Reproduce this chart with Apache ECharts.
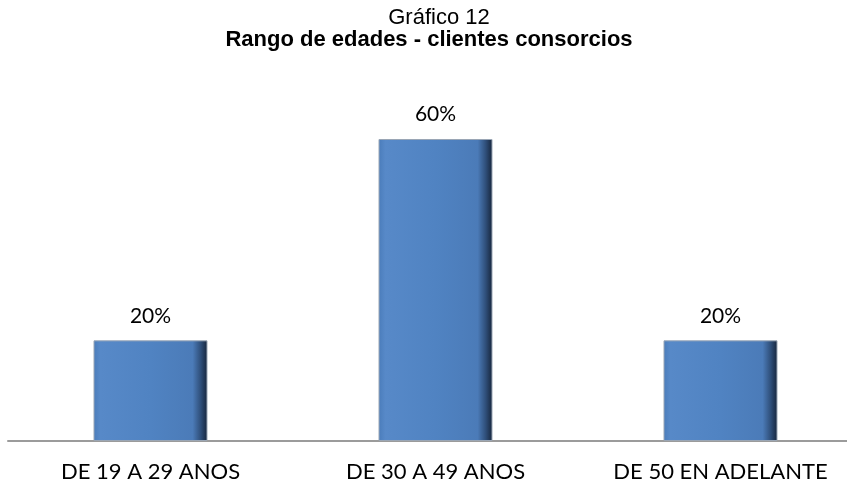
<!DOCTYPE html>
<html>
<head>
<meta charset="utf-8">
<script src="https://cdn.jsdelivr.net/npm/echarts@6/dist/echarts.min.js"></script>
<style>
  html, body { margin: 0; padding: 0; background: #fff; overflow: hidden; }
  #chart { width: 863px; height: 495px; }
</style>
</head>
<body>
<div id="chart"></div>
<script>
// datos del gráfico
const categories = ['DE 19 A 29 ANOS', 'DE 30 A 49 ANOS', 'DE 50 EN ADELANTE'];
const values = [20, 60, 20];

const chart = echarts.init(document.getElementById('chart'));

// relleno de la barra con efecto biselado (aprox.)
const barColor = new echarts.graphic.LinearGradient(0, 0, 1, 0, [
  { offset: 0, color: '#4a7cba' },
  { offset: 0.06, color: '#5789c8' },
  { offset: 0.5, color: '#5083c2' },
  { offset: 0.87, color: '#4b7bb8' },
  { offset: 0.94, color: '#2f4f7a' },
  { offset: 1, color: '#16243a' }
]);

const option = {
  backgroundColor: '#fff',
  title: [
    {
      text: 'Gráfico 12',
      left: 434,
      textAlign: 'center',
      top: 2,
      textStyle: { fontFamily: 'Liberation Sans', fontWeight: 'normal', fontSize: 22, color: '#000' }
    },
    {
      text: 'Rango de edades - clientes consorcios',
      left: 424,
      textAlign: 'center',
      top: 24,
      textStyle: { fontFamily: 'Liberation Sans', fontWeight: 'bold', fontSize: 22, color: '#000' }
    }
  ],
  grid: { left: 8, right: 0, top: 139, bottom: 54 },
  xAxis: {
    type: 'category',
    data: categories,
    axisLine: { lineStyle: { color: '#9b9b9b', width: 2 } },
    axisTick: { show: false },
    axisLabel: { margin: 20, fontFamily: 'Lato', fontSize: 22, color: '#000' }
  },
  yAxis: {
    type: 'value',
    min: 0,
    max: 60,
    show: false
  },
  series: [
    {
      type: 'bar',
      data: values,
      barWidth: '40%',
      itemStyle: { color: barColor, borderColor: '#9aa6b5', borderWidth: 1 },
      label: {
        show: true,
        position: 'top',
        distance: 14,
        formatter: '{c}%',
        fontFamily: 'Lato',
        fontSize: 21,
        color: '#000'
      }
    }
  ]
};

chart.setOption(option);
</script>
</body>
</html>
